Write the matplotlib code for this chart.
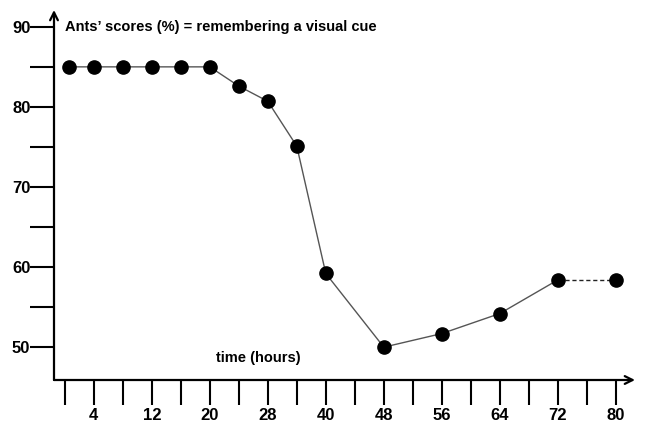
import matplotlib
matplotlib.use('Agg')
import matplotlib.pyplot as plt

# tick slots along the time axis (labels sit on every second slot)
tick_pos = list(range(20))
tick_labels = ['', '4', '', '12', '', '20', '', '28', '', '40',
               '', '48', '', '56', '', '64', '', '72', '', '80']

# measured points (slot position, score %)
slot = [0.15, 1, 2, 3, 4, 5, 6, 7, 8, 9, 11, 13, 15, 17]
score = [85, 85, 85, 85, 85, 85, 82.6, 80.7, 75.1, 59.2, 50.0, 51.7, 54.2, 58.4]
# last point joined with a dashed line
slot_last = [17, 19]
score_last = [58.4, 58.4]

y_ticks = [50, 55, 60, 65, 70, 75, 80, 85, 90]
y_labels = ['50', '', '60', '', '70', '', '80', '', '90']

plt.rcParams['font.family'] = ['Liberation Sans', 'DejaVu Sans']
plt.rcParams['font.weight'] = 'bold'

fig = plt.figure(figsize=(6.48, 4.26), dpi=100)
ax = fig.add_axes([54 / 648, 1 - 380 / 426, 581 / 648, 370 / 426])

ax.plot(slot, score, color='#555555', lw=1.0, zorder=2)
ax.plot(slot_last, score_last, color='#222222', lw=1.0, ls=(0, (3, 2)), zorder=2)
ax.plot(slot + slot_last[1:], score + score_last[1:], 'o', color='black',
        ms=9.5, zorder=3)

ax.set_xlim(-0.37, 19.66)
ax.set_ylim(45.9, 92.1)

for s in ax.spines.values():
    s.set_visible(False)

# axes with arrow heads
arrow = dict(arrowstyle='->', lw=1.6, color='black', mutation_scale=14,
             shrinkA=0, shrinkB=0)
ax.annotate('', xy=(0, 1), xytext=(0, 0), xycoords='axes fraction',
            arrowprops=arrow, annotation_clip=False)
ax.annotate('', xy=(1, 0), xytext=(0, 0), xycoords='axes fraction',
            arrowprops=arrow, annotation_clip=False)

ax.set_xticks(tick_pos)
ax.set_xticklabels(tick_labels, fontsize=12, fontweight='bold')
ax.set_yticks(y_ticks)
ax.set_yticklabels(y_labels, fontsize=12, fontweight='bold')
ax.tick_params(axis='x', direction='out', length=18, width=1.5, pad=2)
ax.tick_params(axis='y', direction='out', length=17, width=1.5, pad=0)

fig.text(65 / 648, 1 - 27 / 426, 'Ants\u2019 scores (%) = remembering a visual cue',
         fontsize=10.5, fontweight='bold', va='center', ha='left')
fig.text(258 / 648, 1 - 358 / 426, 'time (hours)',
         fontsize=10.5, fontweight='bold', va='center', ha='center')

fig.savefig('out.png', dpi=100)
